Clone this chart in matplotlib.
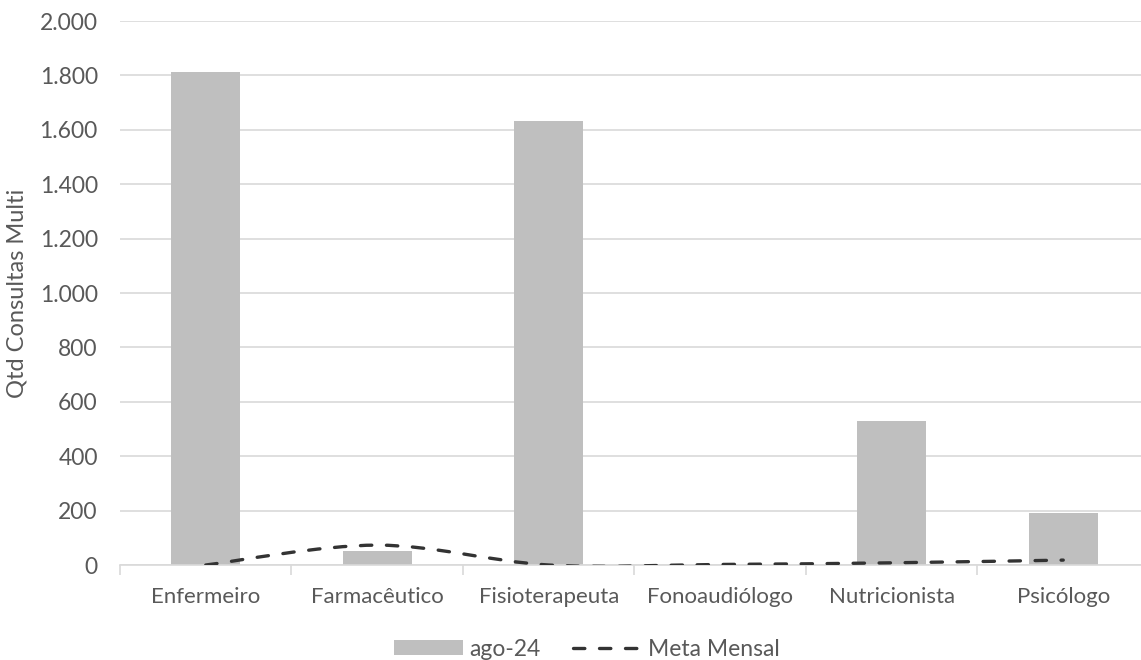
import matplotlib

matplotlib.use("Agg")
import matplotlib.pyplot as plt
import numpy as np
from matplotlib.lines import Line2D
from matplotlib.patches import Patch, PathPatch
from matplotlib.path import Path

CATEGORIES = ["Enfermeiro", "Farmacêutico", "Fisioterapeuta",
              "Fonoaudiólogo", "Nutricionista", "Psicólogo"]
AGO_24 = [1813, 51, 1633, 0, 528, 190]
META_MENSAL = [0, 73, 0, 2, 8, 18]

BAR_COLOR = "#BFBFBF"
LINE_COLOR = "#333333"
TEXT_COLOR = "#595959"
GRID_COLOR = "#D9D9D9"
DASH = (0, (3.4, 4.4))

plt.rcParams["font.family"] = ["Lato", "DejaVu Sans"]


def smooth_path(xs, ys):
    """Curva suavizada tipo Excel (Bezier Catmull-Rom)."""
    pts = np.column_stack([xs, ys]).astype(float)
    ext = np.vstack([pts[0], pts, pts[-1]])
    verts = [tuple(pts[0])]
    codes = [Path.MOVETO]
    for i in range(len(pts) - 1):
        p0, p1, p2, p3 = ext[i], ext[i + 1], ext[i + 2], ext[i + 3]
        c1 = p1 + (p2 - p0) / 6.0
        c2 = p2 - (p3 - p1) / 6.0
        verts += [tuple(c1), tuple(c2), tuple(p2)]
        codes += [Path.CURVE4] * 3
    return Path(verts, codes)


fig = plt.figure(figsize=(11.41, 6.6), dpi=100)
ax = fig.add_axes([120 / 1141, (660 - 565) / 660, 1029 / 1141, 544 / 660])

x = np.arange(len(CATEGORIES))
ax.bar(x, AGO_24, width=0.4, color=BAR_COLOR, zorder=2)

path = smooth_path(x, META_MENSAL)
ax.add_patch(PathPatch(path, fill=False, edgecolor=LINE_COLOR, linewidth=2.4,
                       linestyle=DASH, capstyle="round", zorder=3))

ax.set_xlim(-0.5, len(CATEGORIES) - 0.5)
ax.set_ylim(0, 2000)
ax.set_yticks(np.arange(0, 2001, 200))
ax.set_yticklabels([f"{v:,.0f}".replace(",", ".") for v in range(0, 2001, 200)])
ax.yaxis.grid(True, color=GRID_COLOR, linewidth=1.2, zorder=0)
ax.set_axisbelow(True)

ax.set_xticks(x)
ax.set_xticklabels(CATEGORIES)
ax.set_xticks(np.arange(-0.5, len(CATEGORIES)), minor=True)
ax.tick_params(axis="x", which="major", length=0, pad=16,
               labelsize=16, labelcolor=TEXT_COLOR)
ax.tick_params(axis="x", which="minor", length=7, color=GRID_COLOR, width=1.2)
ax.tick_params(axis="y", length=0, pad=16, labelsize=16.5, labelcolor=TEXT_COLOR)

for side in ["top", "right", "left"]:
    ax.spines[side].set_visible(False)
ax.spines["bottom"].set_color(GRID_COLOR)
ax.spines["bottom"].set_linewidth(1.2)

fig.text(17 / 1141, 1 - 293 / 660, "Qtd Consultas Multi", rotation=90,
         va="center", ha="center", fontsize=17, color=TEXT_COLOR)

handles = [
    Patch(facecolor=BAR_COLOR, edgecolor="none"),
    Line2D([0], [0], color=LINE_COLOR, linewidth=2.4,
           linestyle=DASH, dash_capstyle="round"),
]
leg = fig.legend(handles, ["ago-24", "Meta Mensal"], loc="center",
                 bbox_to_anchor=(587 / 1141, 1 - 649 / 660), ncol=2,
                 frameon=False, fontsize=16.5, handlelength=3.0,
                 handleheight=0.6, columnspacing=1.4, handletextpad=0.3,
                 borderpad=0.1)
for t in leg.get_texts():
    t.set_color(TEXT_COLOR)

fig.savefig("out.png", dpi=100)
